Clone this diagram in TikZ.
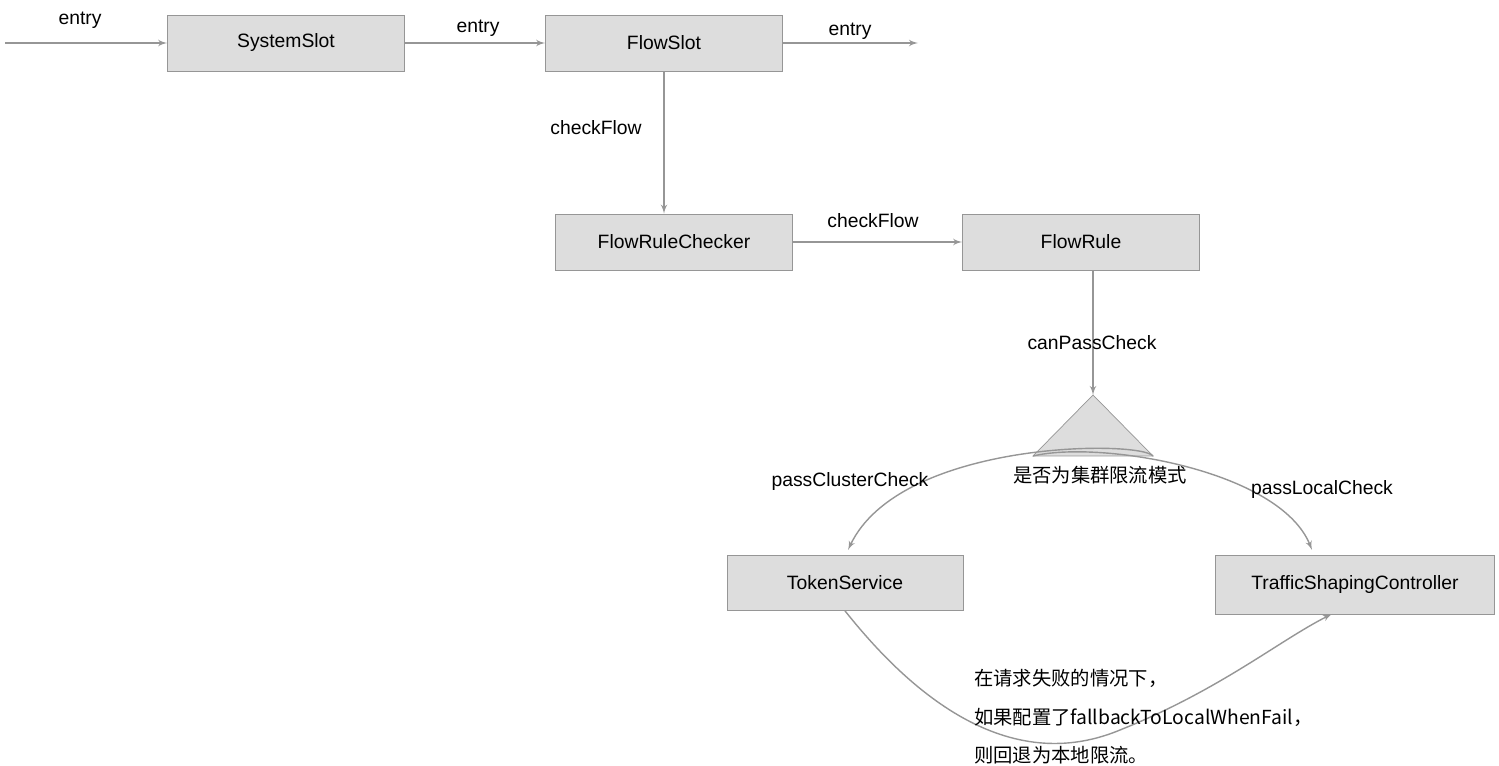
\documentclass[tikz,border=0pt]{standalone}
\usepackage{fontspec}
\setmainfont{Liberation Sans}
\newfontfamily\cjk{Noto Sans CJK SC}
\usetikzlibrary{arrows,positioning}
\definecolor{boxfill}{RGB}{221,221,221}
\definecolor{edge}{RGB}{150,150,150}
\begin{document}
\begin{tikzpicture}[x=0.02cm,y=-0.02cm,font=\fontsize{11}{13}\selectfont]
      \tikzset{
        slot/.style={draw=edge, rectangle, fill=boxfill, minimum width=4.74cm, minimum height=1.12cm},
        tri/.style={draw=edge, fill=boxfill},
        line/.style={draw=edge, thick, -latex'},
        lbl/.style={inner sep=1pt},
      }
      \useasboundingbox (0,0) rectangle (1499,766);
      \node [slot] (sys) at (286,43) {SystemSlot};
      \node [slot] (flow) at (664,43) {FlowSlot};
      \node [slot] (checker) at (674,242) {FlowRuleChecker};
      \node [slot] (rule) at (1081,242) {FlowRule};
      \node [slot, minimum width=4.72cm, minimum height=1.1cm] (token) at (845,583) {TokenService};
      \node [slot, minimum width=5.58cm, minimum height=1.18cm] (traffic) at (1355,585) {TrafficShapingController};
      \coordinate (start) at (5,43);
      \coordinate (out) at (918,43);
      \coordinate (apex) at (1093,395);
      \coordinate (bl) at (1033,456);
      \coordinate (br) at (1153,456);
      \path [tri] (apex) -- (bl) -- (br) -- cycle;
      \node [lbl] (mode) at (1100,475) {\cjk 是否为集群限流模式};

      \path [line] (start)--(sys);
      \node [lbl] at (80,20) {entry};
      \path [line] (sys)--(flow);
      \node [lbl] at (478,28) {entry};
      \path [line] (flow)--(out);
      \node [lbl] at (850,31) {entry};
      \path [line] (flow)--(checker.north -| flow);
      \node [lbl] at (596,128) {checkFlow};
      \path [line] (checker)--(rule);
      \node [lbl] at (873,221) {checkFlow};
      \path [line] (rule.south -| apex)--(apex);
      \node [lbl] at (1092,343) {canPassCheck};
      % branches
      \path [line] (br) .. controls (1140,440) and (900,440) .. (848,550);
      \node [lbl] at (850,482) {passClusterCheck};
      \path [line] (bl) .. controls (1100,440) and (1280,470) .. (1312,550);
      \node [lbl] at (1322,490) {passLocalCheck};
      \path [line] (token.south) .. controls (900,680) and (1000,780) .. (1120,730) .. controls (1220,690) and (1280,640) .. (1332,614);
      \node [lbl, align=left, anchor=north west, font=\cjk\fontsize{11}{22}\selectfont] (note) at (972,667) {在请求失败的情况下，\\如果配置了fallbackToLocalWhenFail，\\则回退为本地限流。};
\end{tikzpicture}
\end{document}
